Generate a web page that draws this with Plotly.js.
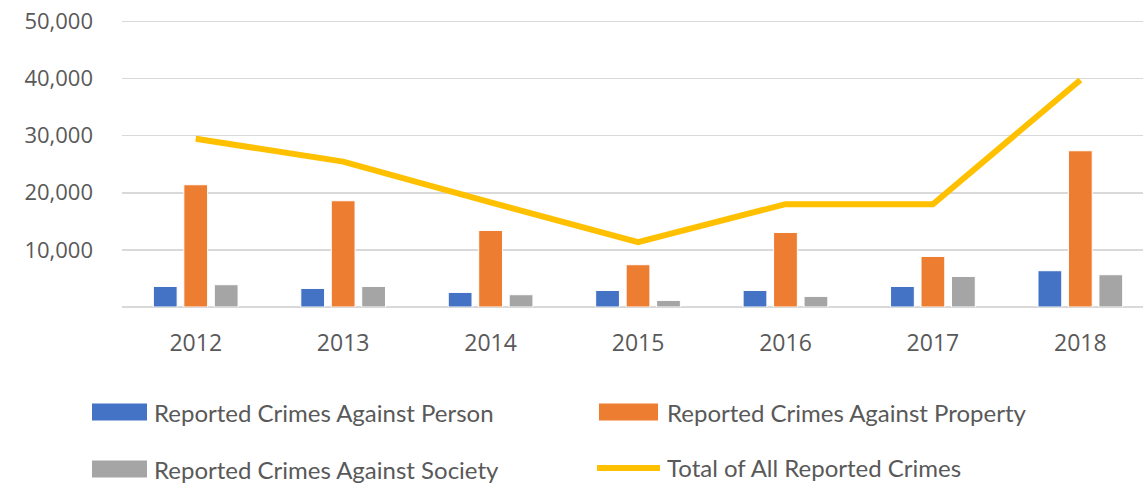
<!DOCTYPE html>
<html><head><meta charset="utf-8">
<script src="https://cdn.plot.ly/plotly-3.0.1.min.js"></script>
<style>html,body{margin:0;padding:0;background:#fff;overflow:hidden}</style>
</head><body><div id="chart" style="width:1143px;height:483px"></div>
<script>
const years = ['2012','2013','2014','2015','2016','2017','2018'];
const againstPerson   = [3600, 3250, 2550, 2900, 2900, 3600, 6350];
const againstProperty = [21400, 18600, 13400, 7400, 13050, 8850, 27350];
const againstSociety  = [3900, 3600, 2150, 1150, 1850, 5350, 5650];
const totalAll        = [29450, 25450, 18300, 11350, 18000, 18000, 39750];
const seriesNames = ['Reported Crimes Against Person','Reported Crimes Against Property','Reported Crimes Against Society','Total of All Reported Crimes'];
const yTicks = [0, 10000, 20000, 30000, 40000, 50000];
const yTickText = ['', '10,000', '20,000', '30,000', '40,000', '50,000'];

const W = 1143, H = 483, L = 122, R = 0, T = 15, B = 176;
const pw = W - L - R, ph = H - T - B;
const px = x => (x - L) / pw;
const py = y => (H - B - y) / ph;
const txtColor = '#595959';
const colors = ['#4472C4', '#ED7D31', '#A5A5A5', '#FFC000'];

const bar = (y, i) => ({type:'bar', x: years, y: y, name: seriesNames[i],
  marker:{color: colors[i], line:{color:'#ffffff', width:1}}, showlegend:false, hoverinfo:'y'});
const traces = [
  bar(againstPerson, 0), bar(againstProperty, 1), bar(againstSociety, 2),
  {type:'scatter', mode:'lines', x: years, y: totalAll, name: seriesNames[3],
   line:{color: colors[3], width:6}, showlegend:false}
];

const shapes = [], annotations = [];
const legendItems = [
  {i:0, x0:92, x1:147, yc:412, tx:152},
  {i:1, x0:599, x1:658, yc:412, tx:665},
  {i:2, x0:92, x1:147, yc:469, tx:152},
  {i:3, x0:597, x1:660, yc:468, tx:665, line:true}
];
legendItems.forEach(it => {
  if (it.line) {
    shapes.push({type:'line', xref:'paper', yref:'paper', x0:px(it.x0), x1:px(it.x1), y0:py(it.yc), y1:py(it.yc),
      line:{color: colors[it.i], width:6}});
  } else {
    shapes.push({type:'rect', xref:'paper', yref:'paper', x0:px(it.x0), x1:px(it.x1), y0:py(it.yc-8.5), y1:py(it.yc+8.5),
      fillcolor: colors[it.i], line:{width:0}});
  }
  annotations.push({xref:'paper', yref:'paper', x:px(it.tx), y:py(it.yc), xanchor:'left', yanchor:'middle',
    text: seriesNames[it.i], showarrow:false, font:{family:'Lato, sans-serif', size:24, color: txtColor}});
});

const yMax = ph / (285.6/50000);
const layout = {
  width: W, height: H, margin:{l:L, r:R, t:T, b:B},
  paper_bgcolor:'#fff', plot_bgcolor:'#fff',
  barmode:'group', bargap:0.38, bargroupgap:0.22,
  showlegend:false,
  xaxis:{type:'category', range:[-0.5, 6.425], showgrid:false, zeroline:false, showline:false,
    ticks:'', ticklabelstandoff:20, tickfont:{family:'Open Sans, sans-serif', size:23, color: txtColor}, fixedrange:true},
  yaxis:{range:[0, yMax], tickvals: yTicks, ticktext: yTickText, showgrid:true, gridcolor:'#D9D9D9', gridwidth:1.5,
    zeroline:true, zerolinecolor:'#D9D9D9', zerolinewidth:1.5, showline:false, ticks:'',
    ticklabelstandoff:28, tickfont:{family:'Open Sans, sans-serif', size:22, color: txtColor}, fixedrange:true},
  shapes: shapes, annotations: annotations
};
Plotly.newPlot('chart', traces, layout, {displayModeBar:false, staticPlot:true});
</script></body></html>
